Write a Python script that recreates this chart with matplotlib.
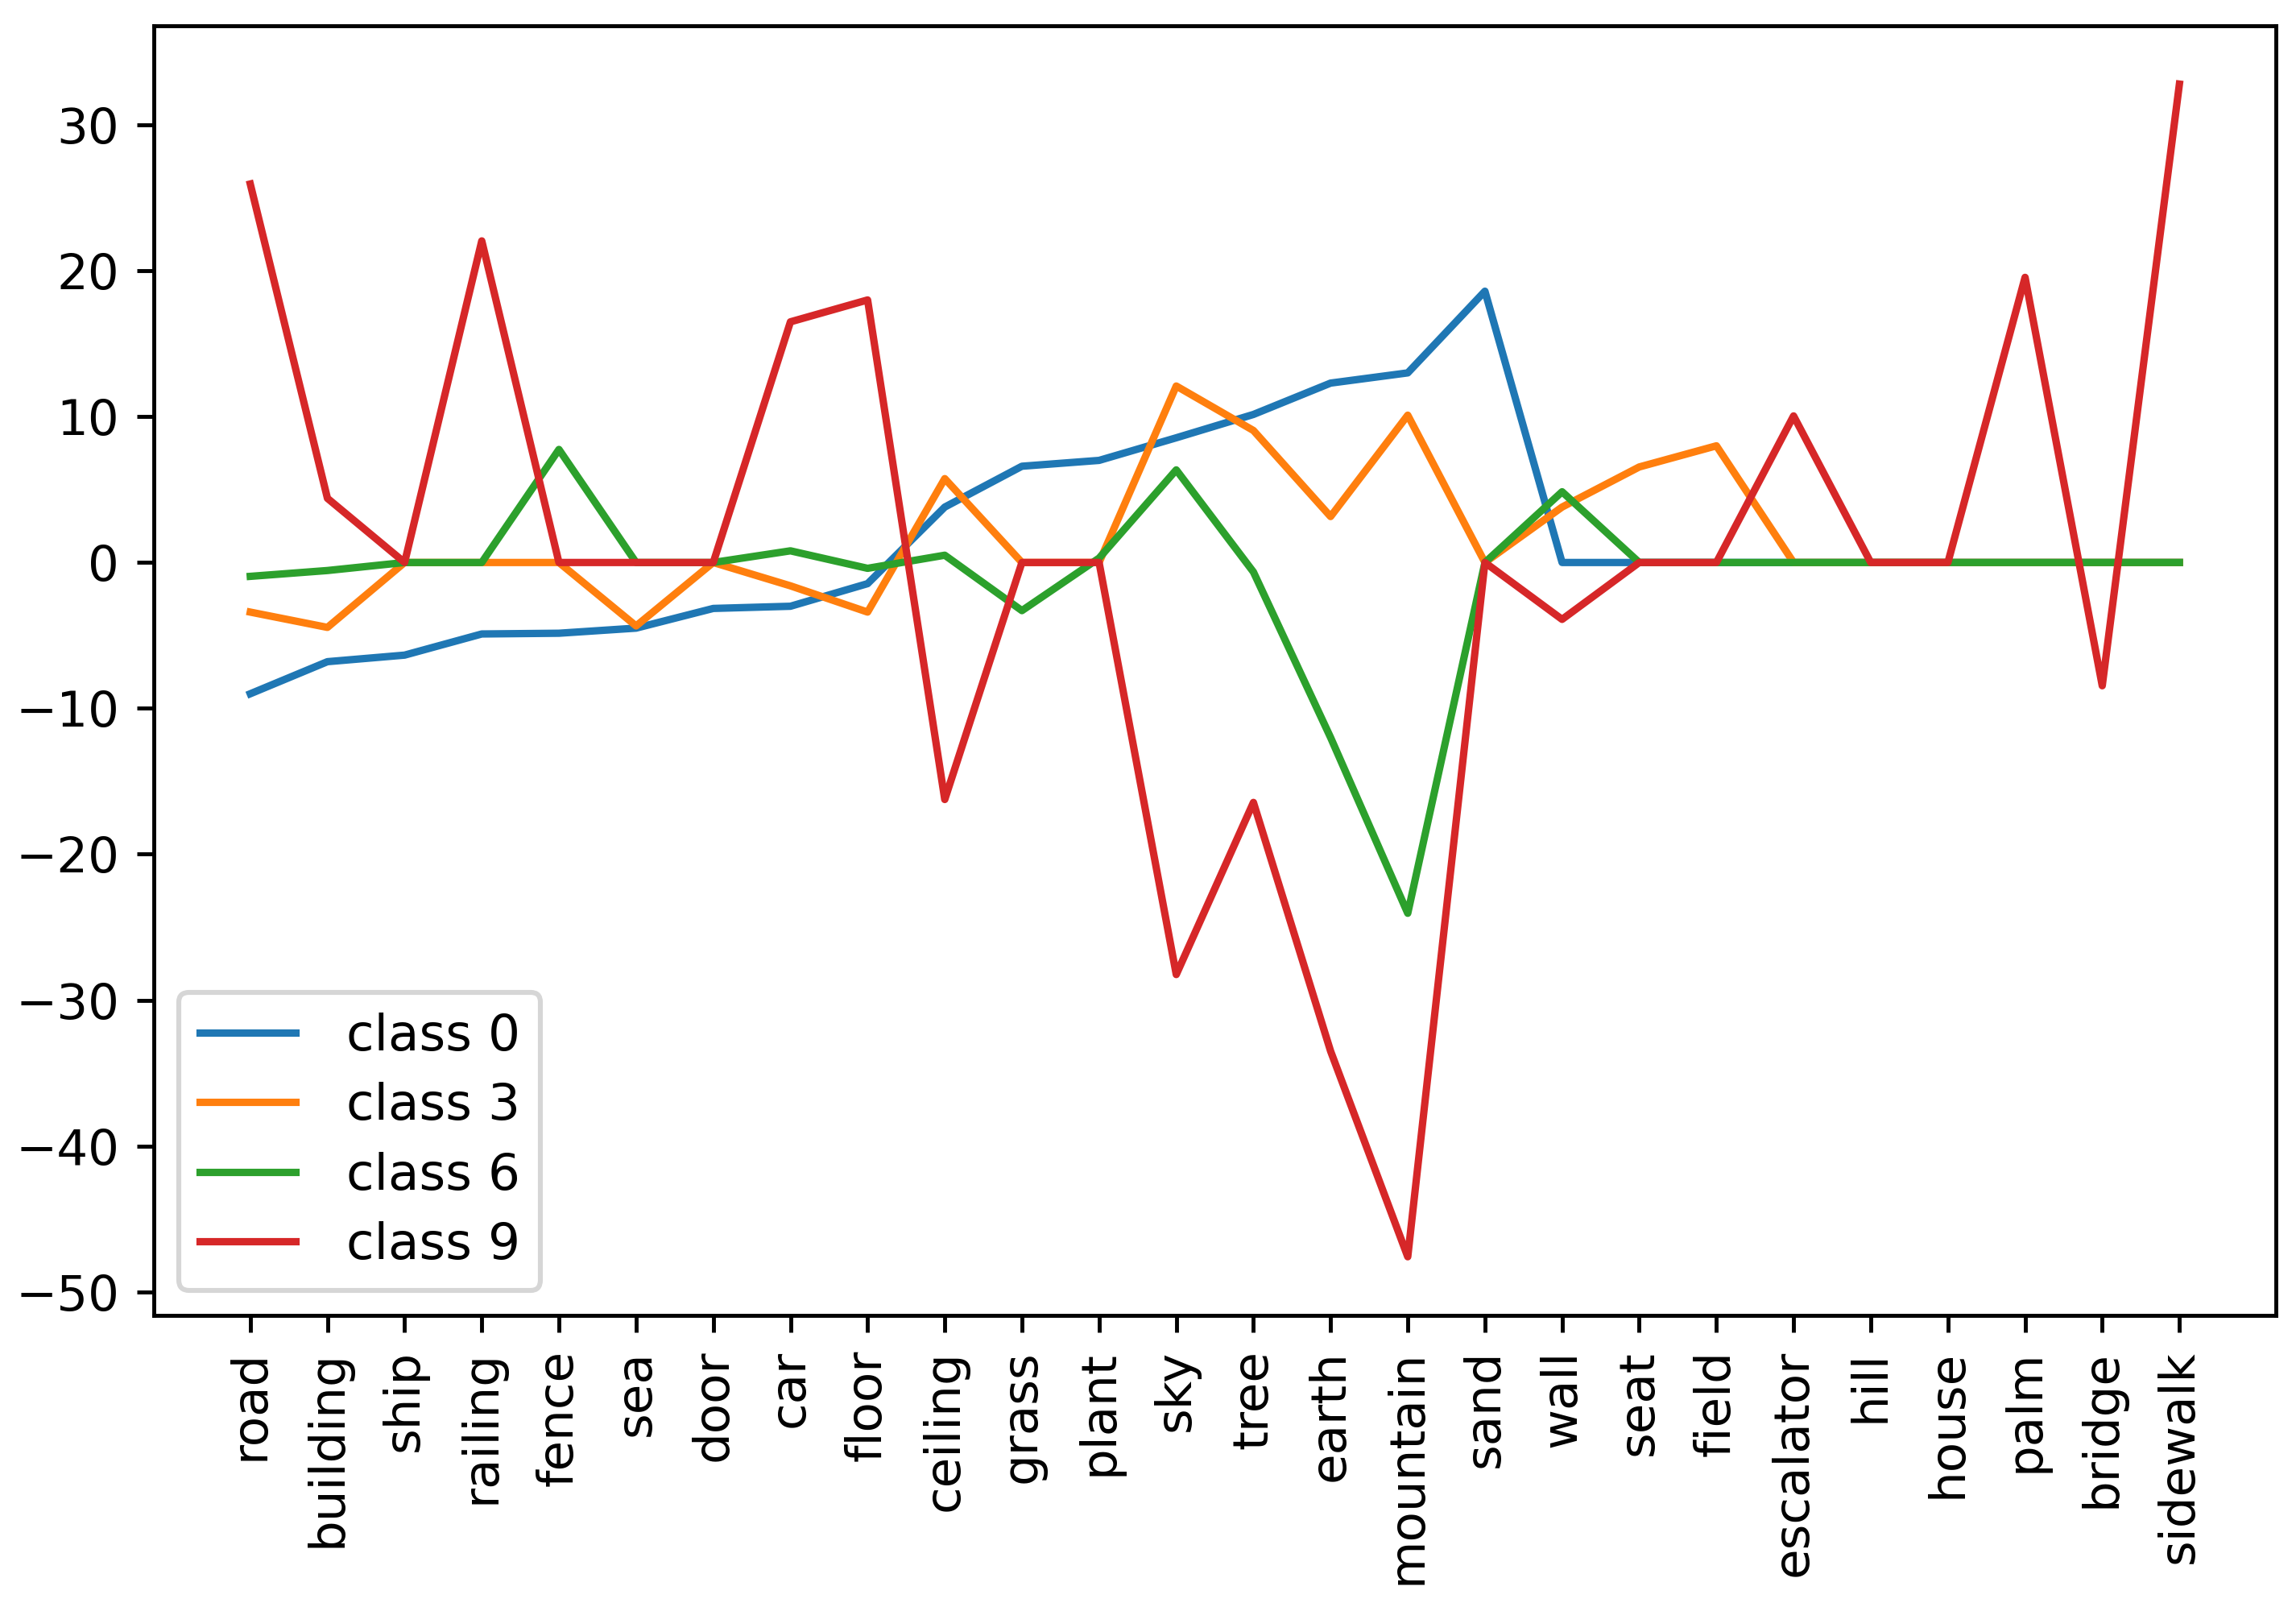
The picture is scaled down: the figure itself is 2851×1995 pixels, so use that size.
import matplotlib
matplotlib.use("Agg")
import matplotlib.pyplot as plt

categories = ["road", "building", "ship", "railing", "fence", "sea", "door", "car",
              "floor", "ceiling", "grass", "plant", "sky", "tree", "earth", "mountain",
              "sand", "wall", "seat", "field", "escalator", "hill", "house", "palm",
              "bridge", "sidewalk"]

class0 = [-9.0, -6.8, -6.35, -4.9, -4.85, -4.5, -3.15, -3.0, -1.45, 3.8, 6.6, 7.0,
          8.55, 10.15, 12.3, 13.0, 18.6, 0, 0, 0, 0, 0, 0, 0, 0, 0]
class3 = [-3.4, -4.45, 0, 0, 0, -4.35, 0, -1.6, -3.4, 5.75, 0, 0, 12.1, 9.05, 3.15,
          10.1, 0, 3.8, 6.55, 8.0, 0, 0, 0, 0, 0, 0]
class6 = [-0.95, -0.55, 0, 0, 7.75, 0, 0, 0.8, -0.4, 0.5, -3.3, 0.3, 6.35, -0.65,
          -12.0, -24.05, 0, 4.85, 0, 0, 0, 0, 0, 0, 0, 0]
class9 = [25.95, 4.4, 0, 22.05, 0, 0, 0, 16.5, 18.0, -16.25, 0, 0, -28.25, -16.45, -33.5,
          -47.6, 0, -3.9, 0, 0, 10.05, 0, 0, 19.55, -8.45, 32.8]

series = [("class 0", class0), ("class 3", class3), ("class 6", class6), ("class 9", class9)]

fig = plt.figure(figsize=(2851 / 440, 1995 / 440), dpi=440)
ax = fig.add_axes([191 / 2851, 1 - 1633 / 1995, 2635 / 2851, (1633 - 31.6) / 1995])

x = list(range(len(categories)))
for label, vals in series:
    ax.plot(x, vals, label=label)

ax.set_xticks(x)
ax.set_xticklabels(categories, rotation=90)
ax.legend(loc="lower left", fontsize=10.3, handletextpad=1.0, labelspacing=0.42,
          handlelength=1.9)

fig.savefig("out.png", dpi=440)
